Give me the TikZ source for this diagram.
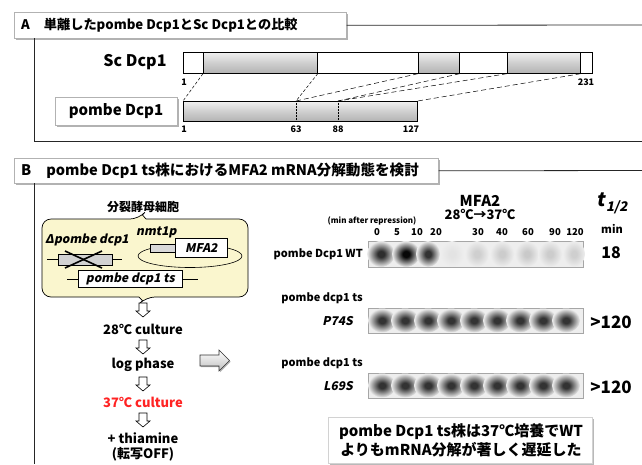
\documentclass[tikz,border=0pt]{standalone}
\usepackage{fontspec}
\setmainfont{Noto Sans CJK JP}
\newfontfamily\slfam{Noto Sans CJK JP}[FakeSlant=0.2]
\usetikzlibrary{shadows,calc}
\definecolor{cellyel}{RGB}{250,246,206}
\definecolor{blotbg}{RGB}{238,238,238}
\definecolor{redtxt}{RGB}{255,35,35}
\colorlet{bandc}{black}
% soft blot band: small core fading out into the membrane colour
\pgfdeclareradialshading[bandc,blotbg]{band}{\pgfpoint{0bp}{0bp}}{color(0bp)=(bandc); color(6bp)=(bandc); color(25bp)=(blotbg); color(50bp)=(blotbg)}
\begin{document}
\begin{tikzpicture}[x=1pt,y=-1pt,
  tx/.style={inner sep=0pt, font=\bfseries\fontsize{#1}{#1}\selectfont},
  sl/.style={inner sep=0pt, font=\slfam\bfseries\fontsize{#1}{#1}\selectfont},
  frame/.style={line width=0.8pt, black!85},
  hdr/.style={draw=gray!60, fill=white, line width=0.6pt, anchor=north west, inner sep=0pt,
    drop shadow={shadow xshift=1.8pt, shadow yshift=-1.8pt, fill=gray!60, opacity=1}},
  bar/.style={draw, line width=0.7pt, anchor=north west, inner sep=0pt, fill=white},
  seg/.style={bar, top color=gray!12, bottom color=gray!60, middle color=gray!38},
  finelink/.style={line width=0.5pt, dash pattern=on 3pt off 2pt},
  link/.style={line width=0.5pt, dash pattern=on 5pt off 3pt},
  gene/.style={draw, line width=0.6pt, inner sep=0pt, anchor=north west},
  dnarrow/.pic={\draw[fill=white, line width=0.6pt] (-4,0) -- (4,0) -- (4,8) -- (7,8) -- (0,14) -- (-7,8) -- (-4,8) -- cycle;},
  bandcol/.code={\colorlet{bandc}{#1}},
  blot/.style={draw=gray!70, fill=blotbg, line width=0.6pt, anchor=north west, inner sep=0pt,
    minimum width=215pt, minimum height=#1},
]
\useasboundingbox (0,0) rectangle (642,464);

% ---------------- Panel A ----------------
\node[hdr, minimum width=332pt, minimum height=26pt] (hA) at (14,12) {};
\node[tx=13.2, anchor=west] (hAt) at (21,25) {A\hspace{14pt}単離したpombe Dcp1とSc Dcp1との比較};
\draw[frame] (hA.east) -- (642,25);
\draw[frame] (34,38) -- (34,141) -- (642,141);

\node[tx=16] (scl) at (135,62) {Sc Dcp1};
\node[bar, minimum width=409pt, minimum height=21pt] (sc) at (183,52) {};
\node[seg, minimum width=114pt, minimum height=21pt] (s1) at (203,52) {};
\node[seg, minimum width=41pt, minimum height=21pt] (s2) at (418,52) {};
\node[seg, minimum width=73pt, minimum height=21pt] (s3) at (507,52) {};
\node[tx=9] (sc1) at (184,82) {1};
\node[tx=9] (sc231) at (586,82) {231};

\node[hdr, minimum width=122pt, minimum height=28pt] (pbl) at (55,97) {};
\node[tx=15] (pblt) at (116,111) {pombe Dcp1};
\node[seg, minimum width=234pt, minimum height=20pt] (pb) at (183,101) {};
\coordinate (p63) at (296,101);
\coordinate (p88) at (338,101);
\draw[line width=0.5pt, densely dotted] (p63) -- (p63 |- pb.south);
\draw[line width=0.5pt, densely dotted] (p88) -- (p88 |- pb.south);
\node[tx=9] (pb1) at (184,129) {1};
\node[tx=9] (pb63) at (296,129) {63};
\node[tx=9] (pb88) at (338,129) {88};
\node[tx=9] (pb127) at (411,129) {127};

\draw[finelink] (s1.south west) -- (pb.north west);
\draw[finelink] (s1.south east) -- (p63);
\draw[link] (s2.south west) -- (p63);
\draw[link] (s2.south east) -- (p88);
\draw[link] (s3.south west) -- (p88);
\draw[link] (s3.south east) -- (pb.north east);

% ---------------- Panel B ----------------
\node[hdr, minimum width=424pt, minimum height=25pt] (hB) at (14,158) {};
\node[tx=14.6, anchor=west] (hBt) at (21,170.5) {B\hspace{15pt}pombe Dcp1 ts株におけるMFA2 mRNA分解動態を検討};
\draw[frame] (hB.east) -- (642,170.5);
\draw[frame] (34,183) -- (34,464);

% yeast cell
\node[tx=12] (cellt) at (143,207) {分裂酵母細胞};
\draw[fill=cellyel, line width=0.7pt, rounded corners=9]
  (42,219) -- (139,219) [sharp corners] -- (142.5,215) -- (146,219) [rounded corners=9]
  -- (248,219) -- (248,297) -- (146,297) [sharp corners] -- (142.5,300.5) -- (139,297)
  [rounded corners=9] -- (42,297) -- cycle;

% disrupted endogenous gene
\node[sl=12, anchor=west] (dpl) at (45,240) {Δpombe dcp1};
\draw[line width=0.6pt] (47,259.5) -- (122,259.5);
\node[gene, fill=gray!35, minimum width=54pt, minimum height=11pt] (dgene) at (58,254) {};
\draw[line width=1.6pt] (65,251) -- (102,268);
\draw[line width=1.6pt] (65,268) -- (102,251);

% plasmid with nmt1p-MFA2
\draw[line width=0.6pt] (190,256) ellipse (52 and 11.5);
\node[sl=12, anchor=west] (nmt) at (136,232) {nmt1p};
\node[gene, fill=gray!30, minimum width=25pt, minimum height=8pt] (prom) at (150,244) {};
\node[gene, fill=white, minimum width=52pt, minimum height=19pt, font=\slfam\bfseries\fontsize{12}{12}\selectfont] (mfa) at (175,238) {MFA2};

% ts allele
\draw[line width=0.6pt] (67,279) -- (198,279);
\node[gene, fill=white, minimum width=104pt, minimum height=17pt, font=\slfam\bfseries\fontsize{12}{12}\selectfont] (tsg) at (78,270) {pombe dcp1 ts};

% procedure
\pic at (143,303) {dnarrow};
\node[tx=13] (st1) at (143,329) {28℃ culture};
\pic at (143,340) {dnarrow};
\node[tx=13] (st2) at (143,365) {log phase};
\pic at (143,377) {dnarrow};
\node[tx=13, text=redtxt] (st3) at (143,402) {37℃ culture};
\pic at (143,413) {dnarrow};
\node[tx=13] (st4) at (143,438) {+ thiamine};
\node[tx=13] (st5) at (143,454) {(転写OFF)};

% hollow arrow towards the blots
\path[draw=black!80, line width=0.6pt, top color=white, bottom color=gray!50,
  drop shadow={shadow xshift=1.2pt, shadow yshift=-1.2pt, fill=gray!60, opacity=1}]
  (200,355) -- (219,355) -- (219,350) -- (229.5,360.5) -- (219,371) -- (219,366) -- (200,366) -- cycle;

% northern blots
\node[tx=15] (mfat) at (480,201) {MFA2};
\node[tx=13] (temp) at (480,214) {28℃→37℃};
\node[tx=8] (minr) at (372,221) {(min after repression)};
\foreach \t/\x in {0/377,5/397,10/417,20/436,30/478,40/502,60/528,90/555,120/575}
  \node[tx=9.5] at (\x,232) {\t};
\node[font=\slfam\bfseries\fontsize{19}{19}\selectfont, inner sep=0pt] (thalf) at (612,203) {t\kern1.5pt\textsubscript{1/2}};
\node[tx=11] (tmin) at (612,229) {min};

\node[blot=26pt] (b1) at (368,241) {};
\node[tx=11, anchor=east] (l1) at (363,254) {pombe Dcp1 WT};
\node[tx=16] (v1) at (611,253) {18};
\foreach \x/\c/\w in {381/black!82/14,406/black!97/14,428/black!80/12,452/gray!22/12,477/gray!38/12,502/gray!40/12,527/gray!42/12,550/gray!40/12,574/gray!38/11}
  \shade[bandcol=\c, shading=band] (\x,254) ellipse [x radius=\w, y radius=13];

\node[tx=11, anchor=east] (l2) at (363,298) {pombe dcp1 ts};
\node[sl=12, anchor=east] (l2m) at (353,321) {P74S};
\node[blot=25pt] (b2) at (368,308) {};
\node[tx=17] (v2) at (611,322) {>120};
\foreach \x in {382,405,428,451,474,497,520,543,566}
  \shade[bandcol=black!80, shading=band] (\x,320.5) ellipse [x radius=14, y radius=12];

\node[tx=11, anchor=east] (l3) at (363,363) {pombe dcp1 ts};
\node[sl=12, anchor=east] (l3m) at (353,386) {L69S};
\node[blot=25pt] (b3) at (368,373) {};
\node[tx=17] (v3) at (611,387) {>120};
\foreach \x in {382,405,428,451,474,497,520,543,566}
  \shade[bandcol=black!80, shading=band] (\x,385.5) ellipse [x radius=14, y radius=12];

% conclusion
\node[draw=gray!35, fill=white, line width=0.6pt, anchor=north west, minimum width=264pt, minimum height=46pt,
  inner sep=0pt, drop shadow={shadow xshift=1.8pt, shadow yshift=-1.8pt, fill=gray!55, opacity=1}] (concl) at (328,417) {};
\node[tx=15] (c1) at (461,432) {pombe Dcp1 ts株は37℃培養でWT};
\node[tx=15] (c2) at (461,450) {よりもmRNA分解が著しく遅延した};
\end{tikzpicture}
\end{document}
